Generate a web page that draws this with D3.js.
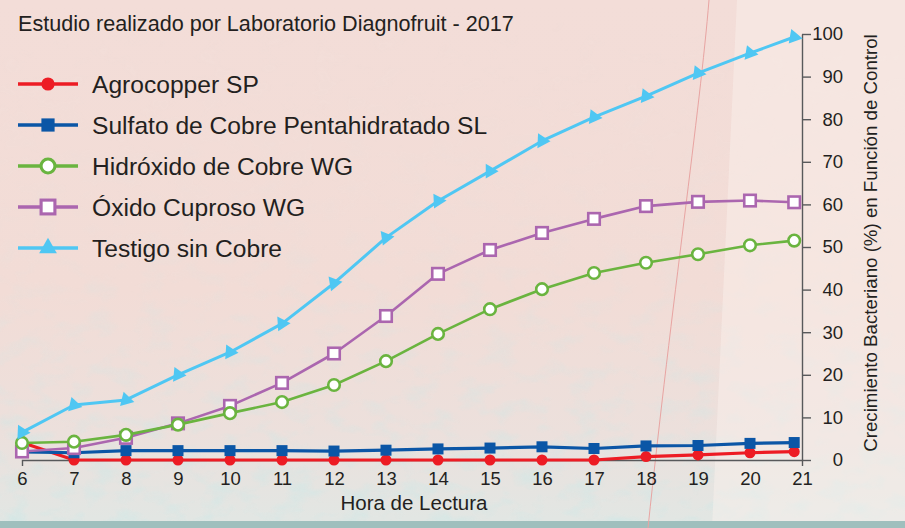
<!DOCTYPE html>
<html>
<head>
<meta charset="utf-8">
<script src="https://cdn.jsdelivr.net/npm/d3@7"></script>
<style>
  body { margin: 0; background: #f3ddd8; }
  svg { display: block; font-family: "Liberation Sans", Arial, sans-serif; }
  .tickText { font-size: 18.5px; fill: #231f20; }
  .axisTitle { font-size: 19px; fill: #231f20; }
</style>
</head>
<body>
<div id="chart"></div>
<script>
// hour of each reading (the last one sits a bit short of the 21 tick in the original)
const hours = [6, 7, 8, 9, 10, 11, 12, 13, 14, 15, 16, 17, 18, 19, 20, 20.85];
const hourTicks = [6, 7, 8, 9, 10, 11, 12, 13, 14, 15, 16, 17, 18, 19, 20, 21];
const growthTicks = [0, 10, 20, 30, 40, 50, 60, 70, 80, 90, 100];

const seriesNames = ["Agrocopper SP", "Sulfato de Cobre Pentahidratado SL",
  "Hidróxido de Cobre WG", "Óxido Cuproso WG", "Testigo sin Cobre"];

const agrocopper = [4.1, 0, 0, 0, 0, 0, 0, 0, 0, 0, 0, 0, 0.8, 1.2, 1.7, 1.95];
const sulfato    = [1.9, 1.7, 2.2, 2.2, 2.2, 2.2, 2.1, 2.3, 2.6, 2.8, 3.1, 2.7, 3.3, 3.4, 3.9, 4.1];
const hidroxido  = [4.0, 4.3, 5.9, 8.3, 11.0, 13.6, 17.6, 23.2, 29.6, 35.4, 40.1, 43.9, 46.3, 48.3, 50.4, 51.5];
const oxido      = [2.0, 2.8, 5.2, 8.6, 12.7, 18.1, 25.0, 33.8, 43.7, 49.3, 53.3, 56.6, 59.6, 60.6, 60.9, 60.5];
const testigo    = [6.5, 12.9, 14.1, 20.0, 25.3, 32.0, 41.5, 52.2, 60.8, 67.8, 74.9, 80.5, 85.4, 90.8, 95.5, 99.3];

class GrowthChart {

  constructor() {
    this.width = 905;
    this.height = 528;
    this.svg = d3.select("#chart").append("svg")
      .attr("width", this.width)
      .attr("height", this.height);

    this.x = d3.scaleLinear().domain([6, 21]).range([22, 802]);
    this.y = d3.scaleLinear().domain([0, 100]).range([460, 34]);
  }

  // background: pink paper, a lighter panel on the right, teal haze at the bottom
  drawBackground() {
    let defs = this.svg.append("defs");
    let grad = defs.append("linearGradient").attr("id", "bgGrad")
      .attr("x1", 0).attr("y1", 0).attr("x2", 0).attr("y2", 1);
    grad.append("stop").attr("offset", "0%").attr("stop-color", "#f3ddd8");
    grad.append("stop").attr("offset", "55%").attr("stop-color", "#f2dcd6");
    grad.append("stop").attr("offset", "82%").attr("stop-color", "#ece0dc");
    grad.append("stop").attr("offset", "98%").attr("stop-color", "#e2e6e3");
    grad.append("stop").attr("offset", "100%").attr("stop-color", "#e2e6e3");

    let noise = defs.append("filter").attr("id", "speckle");
    noise.append("feTurbulence").attr("type", "fractalNoise")
      .attr("baseFrequency", "0.035 0.06").attr("numOctaves", 3).attr("seed", 4);
    noise.append("feColorMatrix").attr("type", "matrix")
      .attr("values", "0 0 0 0 0.55  0 0 0 0 0.82  0 0 0 0 0.82  0 0 0 1.6 -0.75");

    let fade = defs.append("linearGradient").attr("id", "fadeGrad")
      .attr("x1", 0).attr("y1", 0).attr("x2", 0).attr("y2", 1);
    fade.append("stop").attr("offset", "0%").attr("stop-color", "#fff").attr("stop-opacity", 0);
    fade.append("stop").attr("offset", "45%").attr("stop-color", "#fff").attr("stop-opacity", 0.15);
    fade.append("stop").attr("offset", "100%").attr("stop-color", "#fff").attr("stop-opacity", 1);
    defs.append("mask").attr("id", "fadeMask")
      .append("rect").attr("width", this.width).attr("height", this.height).attr("fill", "url(#fadeGrad)");

    this.svg.append("rect")
      .attr("width", this.width).attr("height", this.height)
      .attr("fill", "url(#bgGrad)");

    this.svg.append("rect")
      .attr("width", this.width).attr("height", this.height)
      .attr("filter", "url(#speckle)")
      .attr("mask", "url(#fadeMask)")
      .attr("opacity", 0.7);

    this.svg.append("path")
      .attr("d", "M737,0 L905,0 L905,528 L712,528 Z")
      .attr("fill", "#fbf1ee").attr("opacity", 0.45);

    // bottom strip
    this.svg.append("rect")
      .attr("x", 0).attr("y", 521).attr("width", this.width).attr("height", 7)
      .attr("fill", "#9fbfbd");

    // thin reddish stroke crossing the paper
    this.svg.append("path")
      .attr("d", "M709,0 C700,110 672,300 648,528")
      .attr("fill", "none").attr("stroke", "#e8a4a2").attr("stroke-width", 1);
  }

  drawAxes() {
    let xAxis = d3.axisBottom(this.x)
      .tickValues(hourTicks)
      .tickFormat(d3.format("d"))
      .tickSizeInner(0)
      .tickSizeOuter(6)
      .tickPadding(12);

    let gx = this.svg.append("g")
      .attr("transform", `translate(0,${this.y(0)})`)
      .call(xAxis);
    gx.select(".domain").attr("stroke", "#58595b").attr("stroke-width", 1.4);
    gx.selectAll("text").attr("class", "tickText").attr("font-size", null).attr("font-family", null);

    let yAxis = d3.axisRight(this.y)
      .tickValues(growthTicks)
      .tickSizeInner(9)
      .tickSizeOuter(0)
      .tickPadding(0);

    let gy = this.svg.append("g")
      .attr("transform", `translate(${this.x(21)},0)`)
      .call(yAxis);
    gy.select(".domain").attr("stroke", "#58595b").attr("stroke-width", 1.4);
    gy.selectAll(".tick line").attr("stroke", "#58595b").attr("stroke-width", 1.4);
    gy.selectAll("text")
      .attr("class", "tickText")
      .attr("font-size", null).attr("font-family", null)
      .attr("x", 41)
      .attr("text-anchor", "end");

    //----------------------------------------
    // Axis titles
    //----------------------------------------
    this.svg.append("text")
      .attr("class", "axisTitle")
      .attr("x", 414).attr("y", 510)
      .attr("text-anchor", "middle")
      .style("font-size", "20.5px")
      .text("Hora de Lectura");

    this.svg.append("text")
      .attr("class", "axisTitle")
      .attr("transform", "translate(877,243) rotate(-90)")
      .attr("text-anchor", "middle")
      .style("font-size", "18.7px")
      .text("Crecimiento Bacteriano (%) en Función de Control");

    this.svg.append("text")
      .attr("x", 18).attr("y", 31)
      .style("font-size", "21.6px")
      .attr("fill", "#231f20")
      .text("Estudio realizado por Laboratorio Diagnofruit - 2017");
  }

  // marker drawing for one series, at a point or in the legend
  drawMarker(sel, s, angle) {
    if (s.shape === "circle") {
      sel.append("circle").attr("r", s.filled ? 5.5 : 5.8)
        .attr("fill", s.filled ? s.color : "#fff")
        .attr("stroke", s.color).attr("stroke-width", s.filled ? 0 : 2.6);
    } else if (s.shape === "square") {
      let w = s.filled ? 11 : 11.5;
      sel.append("rect").attr("x", -w / 2).attr("y", -w / 2).attr("width", w).attr("height", w)
        .attr("fill", s.filled ? s.color : "#fff")
        .attr("stroke", s.color).attr("stroke-width", s.filled ? 0 : 2.6);
    } else {
      sel.append("path")
        .attr("d", d3.symbol(d3.symbolTriangle, 95)())
        .attr("transform", `rotate(${angle})`)
        .attr("fill", s.color);
    }
  }

  update() {
    let series = [
      { name: seriesNames[0], values: agrocopper, color: "#ed1c24", shape: "circle", filled: true, width: 3.2 },
      { name: seriesNames[1], values: sulfato, color: "#0b56a6", shape: "square", filled: true, width: 3.2 },
      { name: seriesNames[2], values: hidroxido, color: "#6ab43f", shape: "circle", filled: false, width: 2.6 },
      { name: seriesNames[3], values: oxido, color: "#ab66af", shape: "square", filled: false, width: 2.6 },
      { name: seriesNames[4], values: testigo, color: "#4fc7f3", shape: "triangle", filled: true, width: 3 }
    ];

    this.drawBackground();
    this.drawAxes();

    let line = d3.line()
      .x(d => this.x(d.h))
      .y(d => this.y(d.v));

    //----------------------------------------
    // Lines + markers (draw order as in the original)
    //----------------------------------------
    let order = [0, 1, 3, 2, 4];
    order.forEach(i => {
      let s = series[i];
      let pts = hours.map((h, j) => ({ h: h, v: s.values[j] }));

      this.svg.append("path")
        .datum(pts)
        .attr("d", line)
        .attr("fill", "none")
        .attr("stroke", s.color)
        .attr("stroke-width", s.width)
        .attr("stroke-linejoin", "round");

      let marks = this.svg.append("g").selectAll("g")
        .data(pts)
        .enter()
        .append("g")
        .attr("transform", d => `translate(${this.x(d.h)},${this.y(d.v)})`);

      marks.each((d, j, nodes) => {
        let a = pts[Math.max(j - 1, 0)], b = pts[Math.min(j + 1, pts.length - 1)];
        let ang = Math.atan2(this.y(b.v) - this.y(a.v), this.x(b.h) - this.x(a.h)) * 180 / Math.PI;
        this.drawMarker(d3.select(nodes[j]), s, ang);
      });
    });

    //----------------------------------------
    // Legend
    //----------------------------------------
    let legendY = d3.scalePoint().domain(seriesNames).range([84, 248]);
    let items = this.svg.append("g").selectAll("g")
      .data(series)
      .enter()
      .append("g")
      .attr("transform", d => `translate(0,${legendY(d.name)})`);

    items.append("line")
      .attr("x1", 18).attr("x2", 78)
      .attr("stroke", d => d.color)
      .attr("stroke-width", 3.6);

    items.each((d, j, nodes) => {
      let g = d3.select(nodes[j]).append("g").attr("transform", "translate(48,0) scale(1.2)");
      this.drawMarker(g, d, 0);
    });

    items.append("text")
      .attr("x", 92).attr("y", 9)
      .style("font-size", "24.6px")
      .attr("fill", "#231f20")
      .text(d => d.name);
  }
}

let chart = new GrowthChart();
chart.update();
</script>
</body>
</html>
